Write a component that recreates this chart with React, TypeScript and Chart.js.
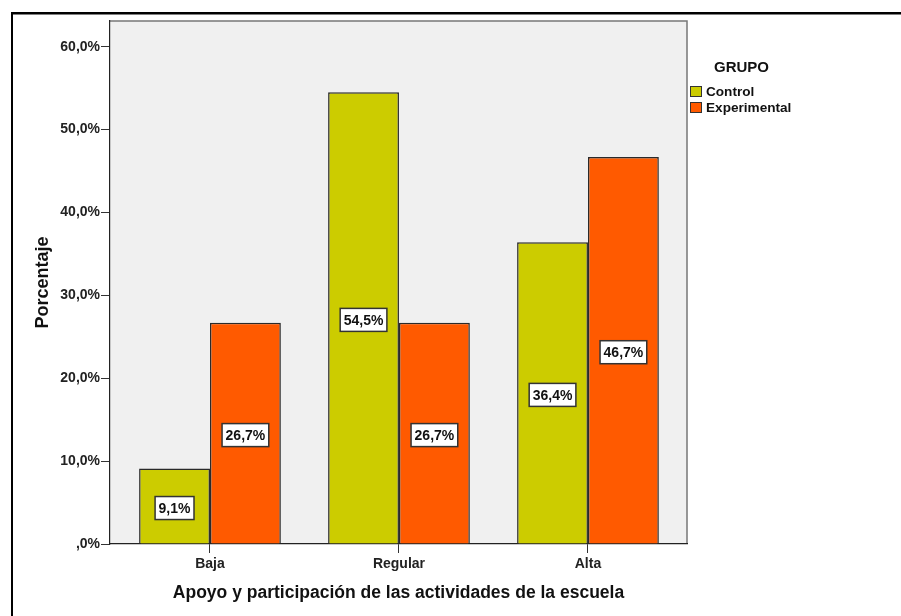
import React, { useEffect, useRef } from "react";
import { Chart, registerables } from "chart.js";

Chart.register(...registerables);

const categories = ["Baja", "Regular", "Alta"];
const seriesNames = ["Control", "Experimental"];
const controlValues = [9.1, 54.5, 36.4];
const experimentalValues = [26.7, 26.7, 46.7];
const yTicks = [0, 10, 20, 30, 40, 50, 60];
const legendTitle = "GRUPO";
const xTitle = "Apoyo y participación de las actividades de la escuela";
const yTitle = "Porcentaje";

const FONT = '"Liberation Sans", Arial, sans-serif';
const colors = ["#cccc00", "#ff5a00"];

const fmt = (v: number) => (v === 0 ? ",0%" : v.toFixed(1).replace(".", ",") + "%");

const framePlugin = {
  id: "frame",
  beforeDraw(chart: any) {
    const { ctx, chartArea: a, width, height } = chart;
    ctx.save();
    ctx.fillStyle = "#ffffff";
    ctx.fillRect(0, 0, width, height);
    ctx.fillStyle = "#f0f0f0";
    ctx.fillRect(a.left, a.top, a.right - a.left, a.bottom - a.top);
    ctx.strokeStyle = "#777777";
    ctx.lineWidth = 1.5;
    ctx.beginPath();
    ctx.moveTo(a.left, a.top);
    ctx.lineTo(a.right, a.top);
    ctx.lineTo(a.right, a.bottom);
    ctx.stroke();
    // outer black border (top and left)
    ctx.fillStyle = "#000000";
    ctx.fillRect(11, 12, width - 11, 2.5);
    ctx.fillRect(11, 12, 2, height - 12);
    ctx.restore();
  },
};

const labelsPlugin = {
  id: "boxLabels",
  afterDatasetsDraw(chart: any) {
    const { ctx } = chart;
    ctx.save();
    ctx.font = "bold 14px " + FONT;
    ctx.textAlign = "center";
    ctx.textBaseline = "middle";
    chart.data.datasets.forEach((ds: any, di: number) => {
      const meta = chart.getDatasetMeta(di);
      meta.data.forEach((bar: any, i: number) => {
        const v = ds.data[i].y;
        const text = fmt(v);
        const cx = bar.x;
        const cy = (bar.y + bar.base) / 2 + 2;
        const w = ctx.measureText(text).width + 7;
        const h = 23;
        ctx.fillStyle = "#ffffff";
        ctx.fillRect(cx - w / 2, cy - h / 2, w, h);
        ctx.strokeStyle = "#333333";
        ctx.lineWidth = 1.5;
        ctx.strokeRect(cx - w / 2, cy - h / 2, w, h);
        ctx.fillStyle = "#111111";
        ctx.fillText(text, cx, cy + 1);
      });
    });
    ctx.restore();
  },
};

const legendPlugin = {
  id: "customLegend",
  afterDraw(chart: any) {
    const { ctx } = chart;
    ctx.save();
    ctx.fillStyle = "#111111";
    ctx.font = "bold 15px " + FONT;
    ctx.textAlign = "center";
    ctx.textBaseline = "middle";
    ctx.fillText(legendTitle, 741.5, 68);
    ctx.font = "bold 13.6px " + FONT;
    ctx.textAlign = "left";
    chart.data.datasets.forEach((ds: any, i: number) => {
      const y = 86 + i * 16;
      ctx.fillStyle = ds.backgroundColor;
      ctx.fillRect(690, y, 12, 11);
      ctx.strokeStyle = "#333333";
      ctx.lineWidth = 1;
      ctx.strokeRect(690.5, y + 0.5, 11, 10);
      ctx.fillStyle = "#111111";
      ctx.fillText(ds.label, 706, y + 6);
    });
    ctx.restore();
  },
};

export default function App() {
  const ref = useRef<HTMLCanvasElement | null>(null);
  useEffect(() => {
    document.body.style.margin = "0";
    if (!ref.current) return;
    const chart = new Chart(ref.current, {
      type: "bar",
      data: {
        datasets: [controlValues, experimentalValues].map((vals, s) => ({
          label: seriesNames[s],
          data: categories.map((_, i) => ({ x: i, y: vals[i] })),
          backgroundColor: colors[s],
          borderColor: "#2a2a2a",
          borderWidth: 1.5,
          categoryPercentage: 0.75,
          barPercentage: 1,
        })),
      },
      plugins: [framePlugin, labelsPlugin, legendPlugin],
      options: {
        responsive: false,
        animation: false,
        devicePixelRatio: 1,
        layout: { padding: { top: 21, right: 214, left: 0, bottom: 0 } },
        plugins: { legend: { display: false }, tooltip: { enabled: false } },
        scales: {
          x: {
            type: "linear",
            min: -0.529,
            max: 2.524,
            offset: false,
            afterFit: (s: any) => {
              s.height = 72;
            },
            afterBuildTicks: (s: any) => {
              s.ticks = categories.map((_, i) => ({ value: i }));
            },
            grid: {
              offset: false,
              drawOnChartArea: false,
              drawTicks: true,
              tickLength: 9,
              tickColor: "#333333",
              tickWidth: 1,
            },
            border: { display: true, color: "#222222", width: 1.2 },
            ticks: {
              padding: 3,
              color: "#222222",
              font: { family: FONT, size: 14, weight: "bold" },
              callback: (v: any) => categories[Math.round(Number(v))] ?? "",
            },
            title: {
              display: true,
              text: xTitle,
              color: "#111111",
              font: { family: FONT, size: 17.5, weight: "bold" },
              padding: { top: 0, bottom: 12.5 },
            },
          },
          y: {
            type: "linear",
            min: 0,
            max: 63.1,
            afterFit: (s: any) => {
              s.width = 110;
            },
            afterBuildTicks: (s: any) => {
              s.ticks = yTicks.map((v) => ({ value: v }));
            },
            grid: {
              drawOnChartArea: false,
              drawTicks: true,
              tickLength: 9,
              tickColor: "#333333",
              tickWidth: 1,
            },
            border: { display: true, color: "#222222", width: 1.2 },
            ticks: {
              padding: 1,
              color: "#222222",
              font: { family: FONT, size: 14, weight: "bold" },
              callback: (v: any) => fmt(Number(v)),
            },
            title: {
              display: true,
              text: yTitle,
              color: "#111111",
              font: { family: FONT, size: 18, weight: "bold" },
              padding: { top: 32.5, bottom: 0 },
            },
          },
        },
      },
    } as any);
    return () => chart.destroy();
  }, []);
  return (
    <div style={{ width: 901, height: 616 }}>
      <canvas ref={ref} width={901} height={616} style={{ display: "block" }} />
    </div>
  );
}
